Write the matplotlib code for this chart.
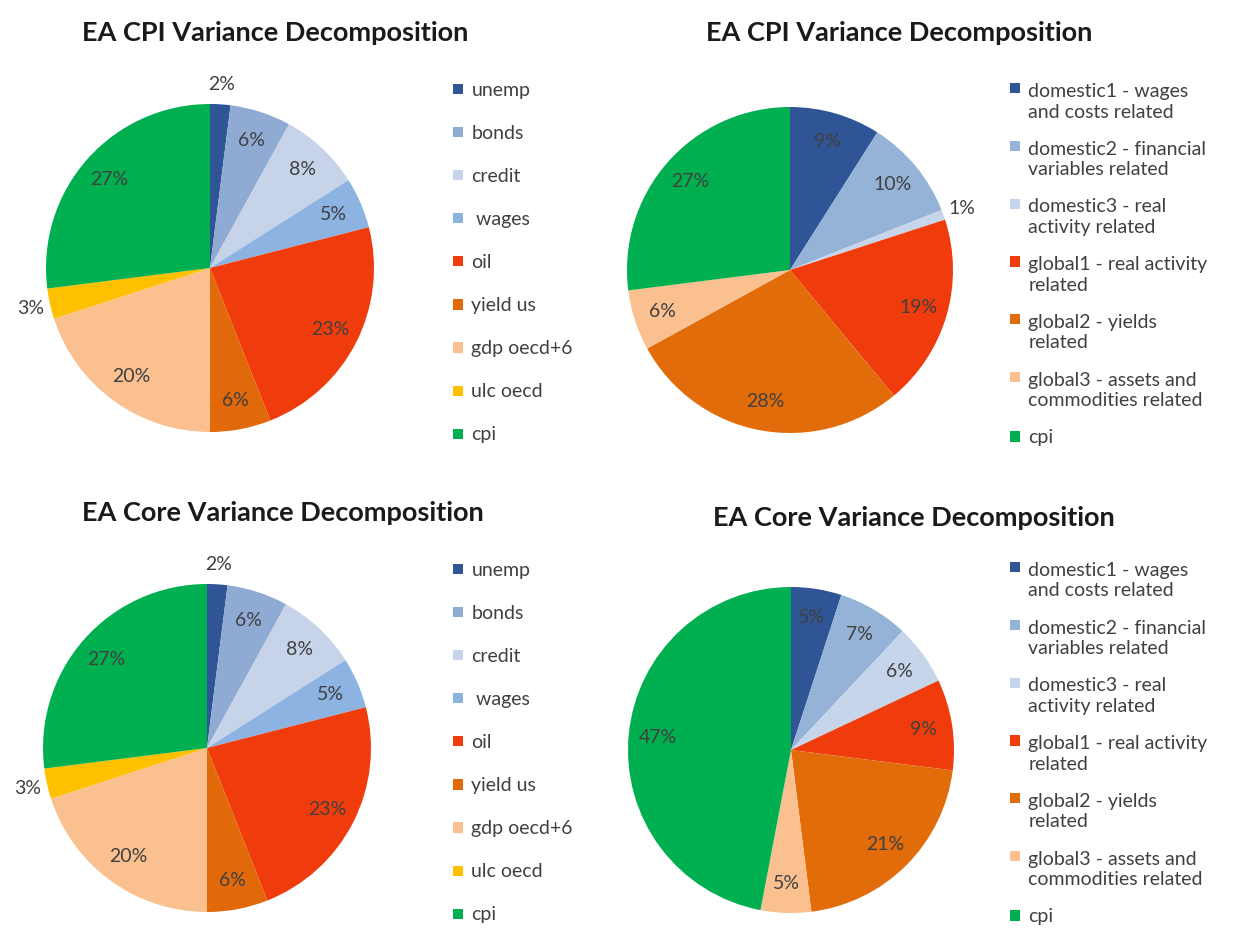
import matplotlib
matplotlib.use("Agg")
import matplotlib.pyplot as plt
import numpy as np
from matplotlib.patches import Rectangle, Wedge
from matplotlib.legend_handler import HandlerPatch

plt.rcParams['font.family'] = ['Lato', 'DejaVu Sans']

# individual variables (left column)
var_labels = ['unemp', 'bonds', 'credit', ' wages', 'oil', 'yield us',
              'gdp oecd+6', 'ulc oecd', 'cpi']
var_colors = ['#2f5597', '#8faad3', '#c6d3e9', '#8db3e2', '#f03c0c',
              '#e2690a', '#fac08f', '#ffc000', '#00b050']
cpi_var_shares = [2, 6, 8, 5, 23, 6, 20, 3, 27]
core_var_shares = [2, 6, 8, 5, 23, 6, 20, 3, 27]

# grouped factors (right column)
group_labels = ['domestic1 - wages\nand costs related',
                'domestic2 - financial\nvariables related',
                'domestic3 - real\nactivity related',
                'global1 - real activity\nrelated',
                'global2 - yields\nrelated',
                'global3 - assets and\ncommodities related',
                'cpi']
group_colors = ['#2f5597', '#95b3d7', '#c6d5ea', '#f03c0c', '#e36c0a',
                '#fac08f', '#00b050']
cpi_group_shares = [9, 10, 1, 19, 28, 6, 27]
core_group_shares = [5, 7, 6, 9, 21, 5, 47]

W, H = 1233, 939
fig = plt.figure(figsize=(W / 100, H / 100), dpi=100)
TXT = '#404040'


def square(legend, orig_handle, xdescent, ydescent, width, height, fontsize):
    s = 0.52 * fontsize
    shift = 0.7 * fontsize if getattr(orig_handle, 'two_line', False) else 0
    return Rectangle((-xdescent + (width - s) / 2,
                      -ydescent + (height - s) / 2 + shift), s, s)


def draw(center, r, values, colors, labels, title, title_xy, leg_xy, spacing):
    cx, cy = center
    ax = fig.add_axes([(cx - r) / W, (H - cy - r) / H, 2 * r / W, 2 * r / H])
    wedges, _ = ax.pie(values, colors=colors, startangle=90, counterclock=False,
                       radius=1)
    ax.set_xlim(-1, 1)
    ax.set_ylim(-1, 1)
    ax.set_aspect('auto')
    for w, v in zip(wedges, values):
        ang = np.deg2rad((w.theta1 + w.theta2) / 2)
        d = 0.82 if v >= 4 else 1.12
        ax.text(d * np.cos(ang), d * np.sin(ang), f'{v}%', ha='center',
                va='center', fontsize=14, color=TXT)
    for w, lab in zip(wedges, labels):
        w.two_line = '\n' in lab
    leg = ax.legend(wedges, labels, loc='upper left',
                    bbox_to_anchor=(leg_xy[0] / W, 1 - leg_xy[1] / H),
                    bbox_transform=fig.transFigure, frameon=False,
                    fontsize=14, handlelength=0.7, handleheight=0.7,
                    handletextpad=0.35, labelspacing=spacing, borderpad=0,
                    borderaxespad=0,
                    handler_map={Wedge: HandlerPatch(patch_func=square)})
    for t in leg.get_texts():
        t.set_color(TXT)
        t.set_linespacing(1.25)
    fig.text(title_xy[0] / W, 1 - title_xy[1] / H, title, ha='center',
             va='center', fontsize=19.5, fontweight='bold', color='#1a1a1a')


draw((210, 268), 164, cpi_var_shares, var_colors, var_labels,
     'EA CPI Variance Decomposition', (275, 33), (451, 82), 1.34)
draw((790, 270), 163, cpi_group_shares, group_colors, group_labels,
     'EA CPI Variance Decomposition', (899, 33), (1008, 83), 1.04)
draw((207, 748), 164, core_var_shares, var_colors, var_labels,
     'EA Core Variance Decomposition', (283, 513), (451, 562), 1.34)
draw((791, 750), 163, core_group_shares, group_colors, group_labels,
     'EA Core Variance Decomposition', (914, 518), (1008, 562), 1.04)

fig.savefig('out.png', dpi=100, facecolor='white')
